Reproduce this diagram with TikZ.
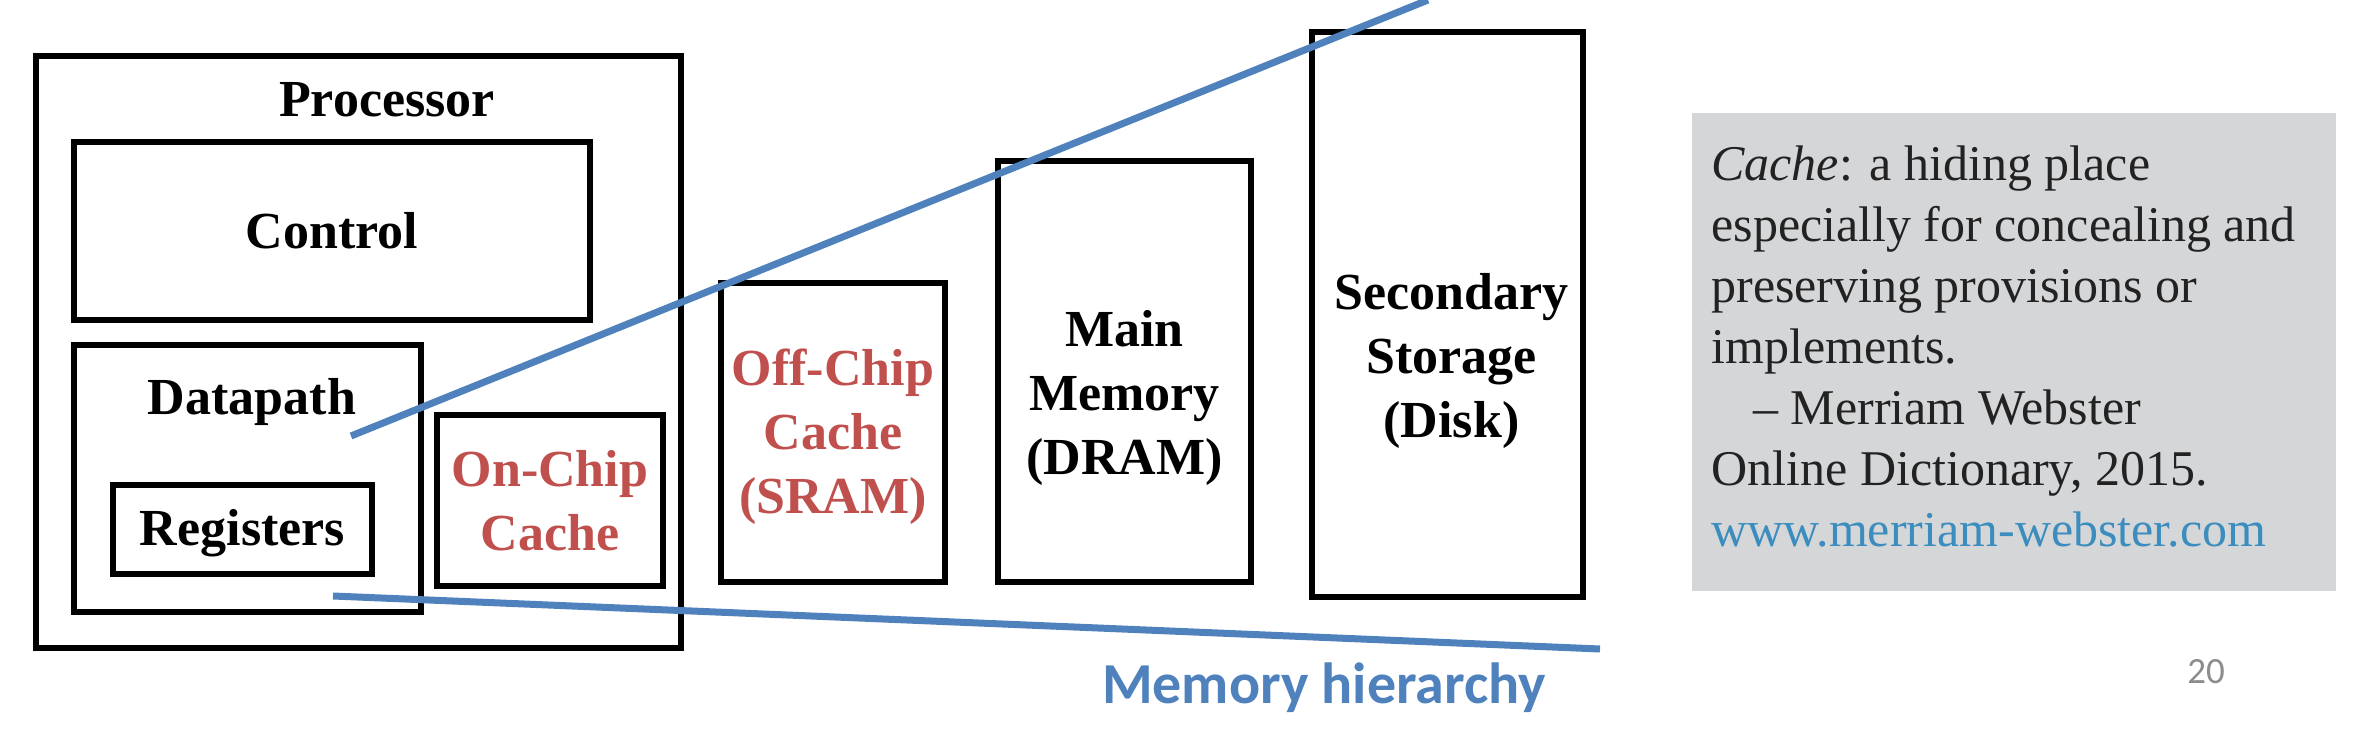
\documentclass[tikz,border=0pt]{standalone}
\usepackage{fontspec}
\setmainfont{Liberation Serif}
\newfontfamily\calibri{Carlito}
\usetikzlibrary{positioning}
\definecolor{cachered}{HTML}{C0504D}
\definecolor{hierblue}{HTML}{4F81BD}
\definecolor{quotegray}{HTML}{D5D6D8}
\definecolor{urlblue}{HTML}{3A8DBE}
\definecolor{quotetxt}{HTML}{222222}
\definecolor{pagegray}{HTML}{8C8C8C}

\begin{document}
\begin{tikzpicture}[
    x=0.5pt, y=-0.5pt,
    unit/.style={
        draw=black, line width=3pt, inner sep=0pt, align=center,
        font=\fontsize{26}{32}\selectfont\bfseries,
    },
    caption/.style={
        inner sep=0pt, align=center,
        font=\fontsize{26}{32}\selectfont\bfseries,
    },
    cachetxt/.style={text=cachered},
    hierline/.style={draw=hierblue, line width=3.5pt},
]
\useasboundingbox (0,0) rectangle (2364,742);

% Processor
\node[unit, minimum width=322.5pt, minimum height=296pt] (processor) at (358.5,352) {};
\node[caption] (proclabel) at (387,100) {Processor};
\node[unit, minimum width=258pt, minimum height=89pt] (control) at (332,231) {Control};
\node[unit, minimum width=173.5pt, minimum height=133.5pt] (datapath) at (247.5,478.5) {};
\node[caption] (dplabel) at (252,402) {Datapath};
\node[unit, minimum width=129.5pt, minimum height=44.5pt] (registers) at (242.5,529.5) {};
\node[caption] (reglabel) at ([yshift=-2pt]registers.center) {Registers};
\node[unit, minimum width=113pt, minimum height=85.5pt] (onchip) at (550,500.5) {};
\node[caption, cachetxt] (onchiplabel) at (onchip.center) {On-Chip\\Cache};

% Levels outside the processor
\node[unit, minimum width=112pt, minimum height=149.5pt] (offchip) at (833,432.5) {};
\node[caption, cachetxt] (offchiplabel) at ([yshift=-2pt]offchip.center) {Off-Chip\\Cache\\(SRAM)};
\node[unit, minimum width=126.5pt, minimum height=210.5pt] (mainmem) at (1124.5,371.5) {};
\node[caption] (mainlabel) at ([yshift=-13pt]mainmem.center) {Main\\Memory\\(DRAM)};
\node[unit, minimum width=135.5pt, minimum height=282.5pt] (disk) at (1447.5,314.5) {};
\node[caption] (disklabel) at ([xshift=2pt, yshift=-23pt]disk.center) {Secondary\\Storage\\(Disk)};

% Hierarchy wedge
\coordinate (topstart) at (351,436);
\coordinate (topend) at (1428,0);
\coordinate (botstart) at (333,596);
\coordinate (botend) at (1600,649);
\draw[hierline] (topstart) -- (topend);
\draw[hierline] (botstart) -- (botend);
\node[text=hierblue, font=\calibri\fontsize{29}{34}\selectfont\bfseries] (hierlabel) at (1324,688) {Memory hierarchy};

% Definition
\node[fill=quotegray, minimum width=322pt, minimum height=239pt, inner sep=0pt] (quotebox) at (2014,352) {};
\node[anchor=north west, align=left, inner sep=0pt, text=quotetxt,
      font=\fontsize{25}{30.5}\selectfont] (quote) at (1711,145)
    {\textit{Cache}: a hiding place\\
     especially for concealing and\\
     preserving provisions or\\
     implements.\\
     \hspace*{21pt}-- Merriam Webster\\
     Online Dictionary, 2015.\\
     \textcolor{urlblue}{www.merriam-webster.com}};

\node[text=pagegray, font=\calibri\fontsize{18.5}{22}\selectfont] (pagenum) at (2206,672) {20};
\end{tikzpicture}
\end{document}
